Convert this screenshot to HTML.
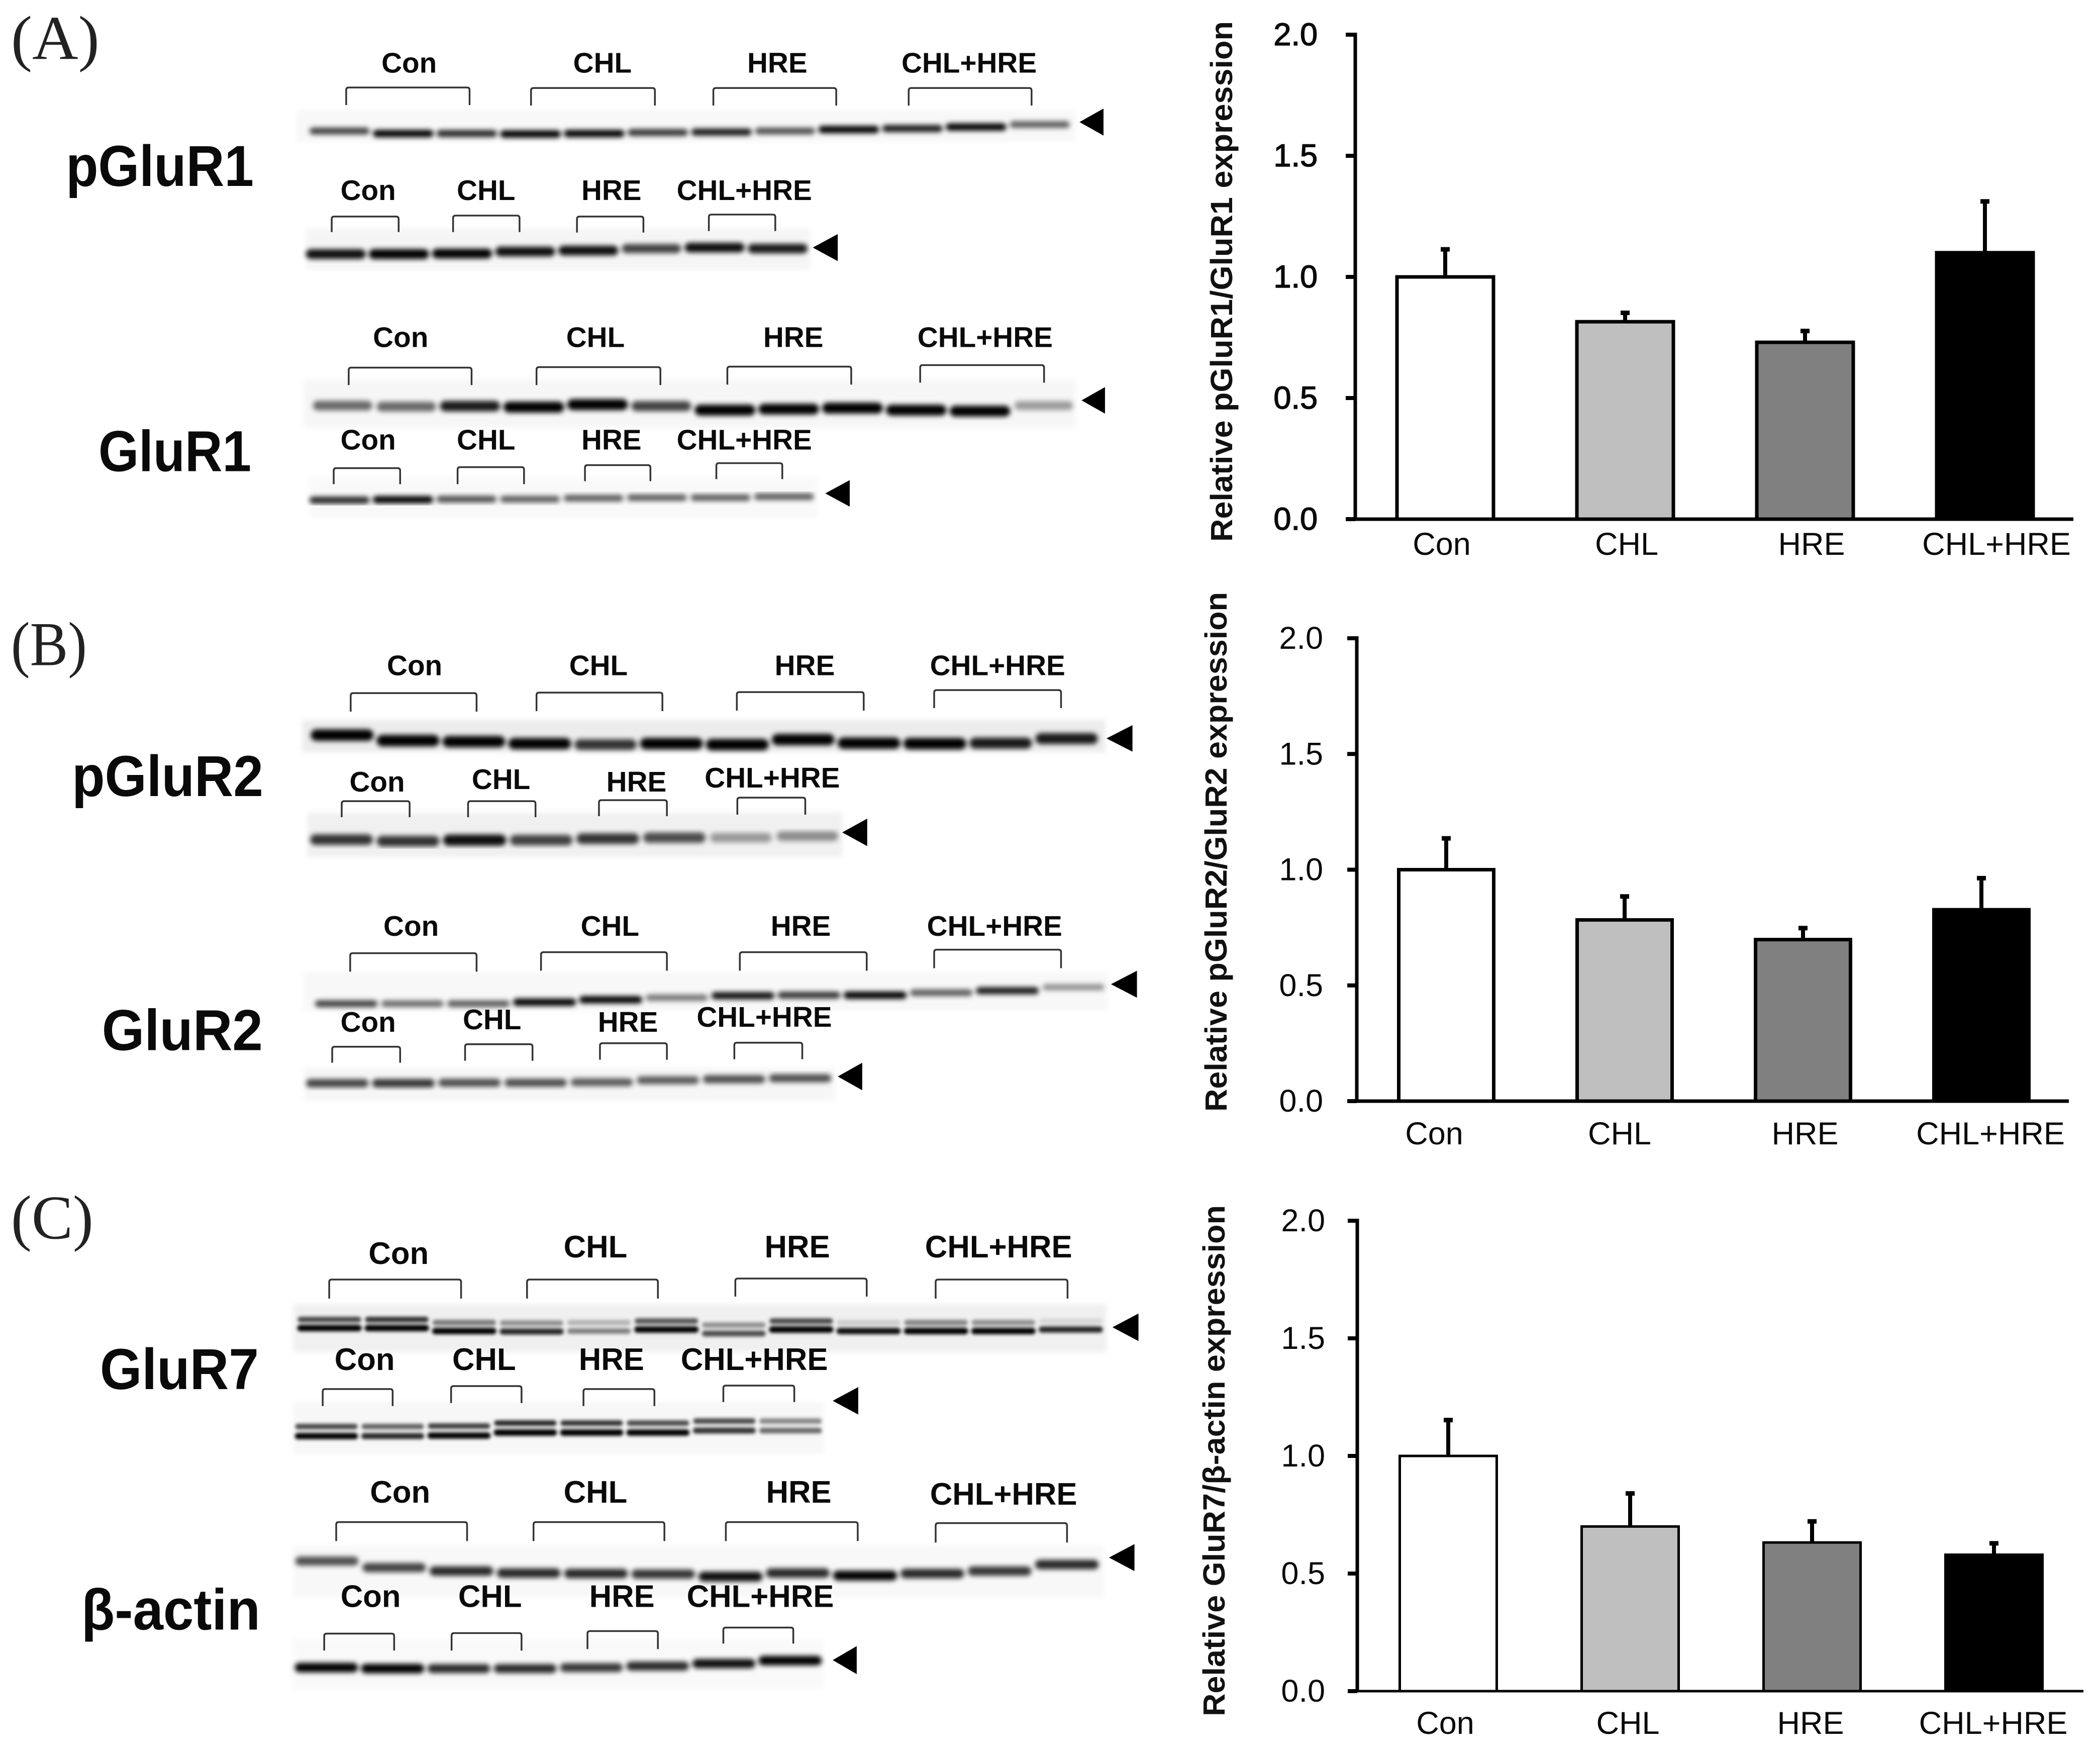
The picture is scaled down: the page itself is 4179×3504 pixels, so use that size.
<!DOCTYPE html>
<html lang="en">
<head>
<meta charset="utf-8">
<title>Western blots and relative expression bar charts</title>
<style>
html,body{margin:0;padding:0;background:#fff}
svg{display:block}
text{font-family:"Liberation Sans",sans-serif}
.serif{font-family:"Liberation Serif",serif;fill:#222}
.big{font-weight:bold;font-size:116px;fill:#0a0a0a}
.title{font-weight:bold;font-size:61px;fill:#111}
</style>
</head>
<body>
<svg id="figure" xmlns="http://www.w3.org/2000/svg" width="4179" height="3504" viewBox="0 0 4179 3504">
  <defs>
    <filter id="band-blur" x="-10%" y="-150%" width="120%" height="400%"><feGaussianBlur stdDeviation="5"/></filter>
    <filter id="doublet-blur" x="-10%" y="-150%" width="120%" height="400%"><feGaussianBlur stdDeviation="3.5"/></filter>
    <filter id="bg-blur" x="-3%" y="-20%" width="106%" height="140%"><feGaussianBlur stdDeviation="5"/></filter>
  </defs>
  <rect width="4179" height="3504" fill="#fff"/>

  <g id="panel-a" transform="scale(.9941 .9952)">
    <text class="serif" x="22" y="118" font-size="125" textLength="177" lengthAdjust="spacingAndGlyphs">(A)</text>
    <text class="big" x="132" y="372" textLength="376" lengthAdjust="spacingAndGlyphs">pGluR1</text>
    <text class="big" x="197" y="942" textLength="306" lengthAdjust="spacingAndGlyphs">GluR1</text>
  </g>
  <g id="panel-b" transform="translate(0 1200) scale(.9941 .9952) translate(0 -1200)">
    <text class="serif" x="22" y="1324" font-size="125" textLength="152" lengthAdjust="spacingAndGlyphs">(B)</text>
    <text class="big" x="144" y="1586" textLength="383" lengthAdjust="spacingAndGlyphs">pGluR2</text>
    <text class="big" x="204" y="2094" textLength="322" lengthAdjust="spacingAndGlyphs">GluR2</text>
  </g>
  <g id="panel-c" transform="translate(0 2350) scale(.9941 .995) translate(0 -2350)">
    <text class="serif" x="22" y="2465" font-size="125" textLength="165" lengthAdjust="spacingAndGlyphs">(C)</text>
    <text class="big" x="200" y="2766" textLength="318" lengthAdjust="spacingAndGlyphs">GluR7</text>
    <text class="big" x="163" y="3247" textLength="358" lengthAdjust="spacingAndGlyphs">β-actin</text>
  </g>

  <text class="title" transform="translate(2452 1078) rotate(-90)" textLength="1036" lengthAdjust="spacingAndGlyphs">Relative pGluR1/GluR1 expression</text>
  <text class="title" transform="translate(2441 2212) rotate(-90)" textLength="1034" lengthAdjust="spacingAndGlyphs">Relative pGluR2/GluR2 expression</text>
  <text class="title" transform="translate(2437 3415) rotate(-90)" textLength="1017" lengthAdjust="spacingAndGlyphs">Relative GluR7/β-actin expression</text>
  <g id="charts"></g>
</svg>
<script>
// ---- chart data ----
const categories = ['Con', 'CHL', 'HRE', 'CHL+HRE'];
const tickValues = [0, 0.5, 1, 1.5, 2];
const tickLabels = ['0.0', '0.5', '1.0', '1.5', '2.0'];
const barFills = ['#ffffff', '#bfbfbf', '#808080', '#000000'];
const meansA = [1.0, 0.815, 0.73, 1.10];
const errorTopsA = [1.12, 0.858, 0.783, 1.318];
const meansB = [1.0, 0.783, 0.698, 0.827];
const errorTopsB = [1.142, 0.891, 0.754, 0.97];
const meansC = [1.0, 0.70, 0.632, 0.58];
const errorTopsC = [1.159, 0.847, 0.728, 0.635];

// ---- blot band data: vertical band positions and band darkness per lane ----
const blotWords = ['Con', 'CHL', 'HRE', 'CHL+HRE'];
const rowsA = [
  {labels:[[819,127],[1206,127],[1556,127],[1940,127]],
   brackets:[[693,940,175,210],[1063,1311,176,211],[1428,1674,176,211],[1819,2065,176,211]],
   box:[594,220,1559,64],bg:'#f8f8f8',lanes:[619,2142],thick:15,
   y:[262,267,267,268,267,265,264,262,259,257,254,249],
   dark:[.7,.95,.8,1,.95,.75,.85,.65,.95,.85,.95,.6],arrow:[2161,2209,217,271]},
  {labels:[[737,382],[973,382],[1224,382],[1490,382]],
   brackets:[[664,798,433,464],[907,1040,431,464],[1155,1288,433,465],[1419,1552,429,462]],
   box:[612,457,1010,81],bg:'#f5f5f5',lanes:[612,1617],thick:20,
   y:[508,508,507,503,501,497,495,497],
   dark:[.9,1,.95,.9,.9,.7,.9,.85],arrow:[1627,1677,468,522]},
  {labels:[[802,676],[1192,676],[1588,676],[1972,676]],
   brackets:[[698,944,735,770],[1074,1322,734,770],[1456,1704,733,769],[1842,2090,730,765]],
   box:[608,759,1545,96],bg:'#f6f6f6',lanes:[625,2150],thick:22,
   y:[811,813,812,814,809,812,820,818,816,820,822,811],
   dark:[.55,.55,.85,1,1,.7,1,.95,1,.95,.95,.35],arrow:[2165,2212,774,827]},
  {labels:[[737,881],[973,881],[1224,881],[1490,881]],
   brackets:[[668,801,936,968],[916,1049,934,968],[1171,1302,930,962],[1434,1566,926,958]],
   box:[619,954,1018,81],bg:'#f9f9f9',lanes:[619,1630],thick:15,
   y:[1000,999,998,998,996,995,995,993],
   dark:[.8,.95,.65,.6,.6,.6,.6,.6],arrow:[1652,1701,960,1013]}
];
const rowsB = [
  {labels:[[830,1326],[1198,1326],[1611,1326],[1997,1326]],
   brackets:[[702,954,1380,1417],[1074,1326,1379,1416],[1475,1729,1378,1415],[1870,2124,1374,1410]],
   box:[605,1434,1607,64],bg:'#ececec',lanes:[622,2198],thick:23,
   y:[1464,1475,1477,1481,1483,1481,1483,1473,1480,1481,1480,1471],
   dark:[1,1,.95,.95,.75,1,1,.95,.95,1,.85,.85],arrow:[2215,2267,1444,1497]},
  {labels:[[755,1559],[1003,1554],[1274,1559],[1546,1551]],
   brackets:[[684,820,1596,1628],[937,1072,1596,1628],[1199,1335,1594,1626],[1476,1612,1589,1623]],
   box:[615,1619,1071,89],bg:'#f0f0f0',lanes:[620,1680],thick:23,
   y:[1673,1676,1674,1674,1671,1669,1669,1666],
   dark:[.75,.75,.9,.7,.75,.65,.35,.4],arrow:[1686,1736,1631,1686]},
  {labels:[[823,1847],[1221,1847],[1603,1847],[1991,1847]],
   brackets:[[701,954,1900,1937],[1083,1335,1898,1935],[1481,1735,1898,1935],[1870,2124,1893,1930]],
   box:[608,1938,1609,78],bg:'#f8f8f8',lanes:[630,2212],thick:15,
   y:[2001,2001,2001,1998,1993,1989,1985,1984,1984,1979,1975,1968],
   dark:[.7,.55,.6,.95,.95,.5,.9,.75,.95,.6,.85,.4],arrow:[2224,2276,1935,1989]},
  {labels:[[737,2039],[985,2034],[1257,2039],[1530,2029]],
   brackets:[[665,801,2087,2119],[931,1066,2082,2115],[1201,1335,2080,2113],[1470,1606,2079,2112]],
   box:[609,2129,1062,66],bg:'#f6f6f6',lanes:[612,1665],thick:18,
   y:[2160,2160,2159,2159,2158,2154,2152,2150],
   dark:[.7,.75,.65,.65,.6,.6,.65,.65],arrow:[1677,1726,2119,2174]}
];
const rowsC = [
  {labels:[[798,2498],[1192,2485],[1596,2485],[1999,2485]],
   brackets:[[659,923,2547,2585],[1055,1317,2547,2585],[1472,1735,2545,2581],[1873,2137,2547,2585]],
   box:[587,2596,1628,96],bg:'#f0f0f0',lanes:[595,2208],thick:13,gap:17,
   y:[2644,2644,2650,2651,2650,2647,2655,2647,2650,2650,2650,2647],
   dark:[1,1,.95,.8,.45,.95,.65,1,.9,1,.95,.8],
   dark2:[.7,.8,.5,.4,.25,.65,.4,.7,.15,.45,.4,.1],arrow:[2227,2279,2615,2670]},
  {labels:[[730,2710],[969,2710],[1224,2710],[1510,2710]],
   brackets:[[646,786,2766,2800],[903,1044,2760,2794],[1168,1310,2766,2800],[1448,1590,2759,2792]],
   box:[587,2792,1062,104],bg:'#f7f7f7',lanes:[590,1646],thick:13,gap:19,
   y:[2860,2860,2859,2853,2853,2853,2849,2849],
   dark:[.95,.8,.95,1,1,.95,.75,.55],
   dark2:[.7,.6,.75,.85,.8,.7,.7,.45],arrow:[1667,1718,2762,2817]},
  {labels:[[801,2975],[1192,2975],[1599,2975],[2009,2979]],
   brackets:[[673,935,3032,3070],[1068,1330,3032,3070],[1453,1717,3032,3070],[1873,2136,3034,3073]],
   box:[587,3079,1622,103],bg:'#f8f8f8',lanes:[590,2200],thick:20,
   y:[3110,3123,3130,3134,3135,3136,3141,3134,3139,3135,3130,3117],
   dark:[.65,.7,.8,.8,.8,.75,.9,.8,.95,.8,.75,.8],arrow:[2220,2271,3076,3130]},
  {labels:[[742,3184],[981,3184],[1245,3184],[1522,3184]],
   brackets:[[649,789,3255,3289],[904,1044,3254,3289],[1176,1317,3250,3286],[1448,1588,3243,3275]],
   box:[587,3266,1062,101],bg:'#f9f9f9',lanes:[590,1645],thick:19,
   y:[3323,3325,3325,3325,3323,3320,3315,3309],
   dark:[1,1,.8,.8,.75,.8,.9,1],arrow:[1667,1715,3280,3336]}
];

const SVG_NS = 'http://www.w3.org/2000/svg';
function make(parent, tag, attrs, txt) {
  const el = document.createElementNS(SVG_NS, tag);
  for (const k in attrs) el.setAttribute(k, attrs[k]);
  if (txt !== undefined) el.textContent = txt;
  parent.appendChild(el);
  return el;
}

function drawRow(parent, row, id, fontSize) {
  const g = make(parent, 'g', {});
  
  

  const [bx, by, bw, bh] = row.box;
  const bg = make(g, 'rect', {x: bx, y: by, width: bw, height: bh, fill: row.bg, filter: 'url(#bg-blur)'});
  
  

  const n = row.y.length;
  const gapX = 6;
  const laneW = (row.lanes[1] - row.lanes[0] - gapX * (n - 1)) / n;
  const bands = make(g, 'g', {filter: row.dark2 ? 'url(#doublet-blur)' : 'url(#band-blur)', 'stroke-linecap': 'round', fill: 'none', stroke: '#000'});
  
  
  row.y.forEach((yv, i) => {
    const x1 = row.lanes[0] + i * (laneW + gapX) + row.thick / 2;
    const x2 = x1 + laneW - row.thick;
    const band = make(bands, 'line', {x1: x1, x2: x2, y1: yv, y2: yv, 'stroke-width': row.thick * (0.72 + 0.28 * row.dark[i]), 'stroke-opacity': Math.min(1, row.dark[i] * 1.05)});
    
    
    if (row.dark2) {
      const upper = make(bands, 'line', {x1: x1, x2: x2, y1: yv - row.gap, y2: yv - row.gap, 'stroke-width': row.thick * 0.85, 'stroke-opacity': row.dark2[i]});
      
      
    }
  });

  row.brackets.forEach((b, i) => {
    const r = 5;
    const br = make(g, 'path', {d: `M${b[0]} ${b[3]}V${b[2] + r}Q${b[0]} ${b[2]} ${b[0] + r} ${b[2]}H${b[1] - r}Q${b[1]} ${b[2]} ${b[1]} ${b[2] + r}V${b[3]}`, fill: 'none', stroke: '#333', 'stroke-width': 3.5});
    
    
    const t = make(g, 'text', {x: row.labels[i][0], y: row.labels[i][1] + 18, 'text-anchor': 'middle', 'font-size': fontSize, 'font-weight': 'bold', fill: '#0a0a0a'}, blotWords[i]);
    
    
  });

  const a = row.arrow;
  const arrow = make(g, 'polygon', {points: `${a[0]},${(a[2] + a[3]) / 2} ${a[1]},${a[2]} ${a[1]},${a[3]}`, fill: '#000'});
  
  
}

rowsA.forEach((r, i) => drawRow(document.getElementById('panel-a'), r, 'a' + (i + 1), 57));
rowsB.forEach((r, i) => drawRow(document.getElementById('panel-b'), r, 'b' + (i + 1), 57));
rowsC.forEach((r, i) => drawRow(document.getElementById('panel-c'), r, 'c' + (i + 1), 62));

function drawChart(id, means, errorTops, o) {
  const root = make(document.getElementById('charts'), 'g', {});
  
  
  const yScale = v => o.y0 + (o.y2 - o.y0) * v / 2;
  const barX = i => o.bar0 + i * o.barStep;
  const labelX = i => o.label0 + i * o.labelStep;

  categories.forEach((c, i) => {
    const top = yScale(means[i]);
    const eTop = yScale(errorTops[i]);
    const err = make(root, 'line', {x1: barX(i), x2: barX(i), y1: top, y2: eTop, stroke: '#000', 'stroke-width': 8});
    
    
    const cap = make(root, 'line', {x1: barX(i) - 9, x2: barX(i) + 9, y1: eTop + 3, y2: eTop + 3, stroke: '#000', 'stroke-width': 9});
    
    
    const bar = make(root, 'rect', {x: barX(i) - o.barW / 2, y: top, width: o.barW, height: o.y0 - top, fill: barFills[i], stroke: '#000', 'stroke-width': o.barStroke});
    
    
    const lab = make(root, 'text', {x: labelX(i), y: o.labelY, 'text-anchor': 'middle', 'font-size': 63, fill: '#0a0a0a'}, c);
    
    
  });

  const yAxis = make(root, 'line', {x1: o.axisX, x2: o.axisX, y1: o.y2 - 4, y2: o.y0, stroke: '#000', 'stroke-width': 7});
  
  
  const xAxis = make(root, 'line', {x1: o.axisX - o.xOver, x2: o.axisEnd, y1: o.y0, y2: o.y0, stroke: '#000', 'stroke-width': o.xStroke});
  
  

  tickValues.forEach((v, i) => {
    const tick = make(root, 'line', {x1: o.axisX - 19, x2: o.axisX, y1: yScale(v), y2: yScale(v), stroke: '#000', 'stroke-width': 8});
    
    
    const lab = make(root, 'text', {x: o.tickRight, y: yScale(v) + 21, 'text-anchor': 'end', 'font-size': 63, fill: '#0a0a0a', stroke: '#0a0a0a', 'stroke-width': o.tickBold}, tickLabels[i]);
    
    
  });
}

drawChart('a', meansA, errorTopsA, {y0: 1033, y2: 69, axisX: 2697, axisEnd: 4126, xOver: 18, xStroke: 7, bar0: 2876, barStep: 358, barW: 192, barStroke: 7, label0: 2869, labelStep: 368, labelY: 1104, tickRight: 2622, tickBold: 1.5});
drawChart('b', meansB, errorTopsB, {y0: 2191, y2: 1270, axisX: 2700, axisEnd: 4117, xOver: 9, xStroke: 7, bar0: 2878, barStep: 355, barW: 189, barStroke: 7, label0: 2854, labelStep: 369, labelY: 2277, tickRight: 2633, tickBold: 0});
drawChart('c', meansC, errorTopsC, {y0: 3365, y2: 2429, axisX: 2701, axisEnd: 4146, xOver: 0, xStroke: 5, bar0: 2882, barStep: 362, barW: 193, barStroke: 5, label0: 2876, labelStep: 363.5, labelY: 3450, tickRight: 2637, tickBold: 0});
</script>
</body>
</html>
